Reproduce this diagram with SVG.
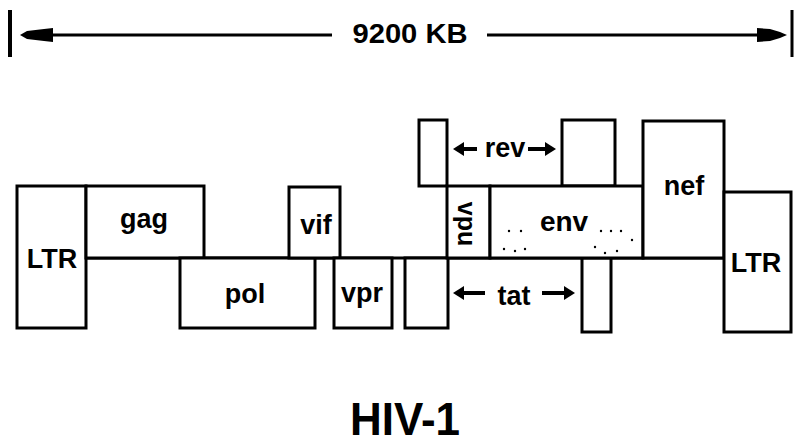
<svg xmlns="http://www.w3.org/2000/svg" width="796" height="447" viewBox="0 0 796 447">
<style>
.box{fill:#fff;stroke:#000;stroke-width:3}
.lbl{font-family:"Liberation Sans",Arial,sans-serif;font-weight:bold;font-size:27px;fill:#000;text-anchor:middle}
.ln{stroke:#000;stroke-width:3;fill:none}
.arr{stroke:#000;stroke-width:4;fill:none}
.head{fill:#000}
.dot{fill:#000}
</style>
<rect width="796" height="447" fill="#fff"/>
<g id="ruler">
<line class="ln" x1="10" y1="10" x2="10" y2="57" style="stroke-width:4"/>
<line class="ln" x1="792" y1="10" x2="792" y2="57" style="stroke-width:3"/>
<line class="ln" x1="45" y1="35" x2="332" y2="35"/>
<line class="ln" x1="487" y1="35" x2="760" y2="35"/>
<polygon class="head" points="20,35 27,31 44,29 53,28 53,42 44,41 27,39"/>
<polygon class="head" points="787,35 780,32 770,29 757,28 757,42 770,41 780,38"/>
<text class="lbl" x="410" y="43" textLength="115" lengthAdjust="spacingAndGlyphs" style="font-size:27px">9200 KB</text>
</g>
<g id="connectors">
<line class="ln" x1="86" y1="258" x2="724" y2="258"/>
</g>
<g id="LTR-left">
<rect class="box" x="17" y="186" width="69" height="142"/>
<text class="lbl" x="52" y="268">LTR</text>
</g>
<g id="gag">
<rect class="box" x="86" y="186" width="118" height="72"/>
<text class="lbl" x="144" y="228">gag</text>
</g>
<g id="pol">
<rect class="box" x="180" y="258" width="135" height="70"/>
<text class="lbl" x="245" y="303">pol</text>
</g>
<g id="vif">
<rect class="box" x="289" y="187" width="51" height="71"/>
<text class="lbl" x="316" y="234">vif</text>
</g>
<g id="vpr">
<rect class="box" x="334" y="258" width="58" height="70"/>
<text class="lbl" x="362" y="302">vpr</text>
</g>
<g id="rev">
<rect class="box" x="419" y="120" width="28" height="66"/>
<rect class="box" x="562" y="120" width="53" height="66"/>
<line class="arr" x1="461" y1="149" x2="477" y2="149"/>
<polygon class="head" points="453,149 464,142 464,156"/>
<line class="arr" x1="528" y1="149" x2="547" y2="149"/>
<polygon class="head" points="556,149 545,142 545,156"/>
<text class="lbl" x="505" y="157">rev</text>
</g>
<g id="tat">
<rect class="box" x="405" y="258" width="43" height="70"/>
<rect class="box" x="582" y="258" width="29" height="74"/>
<line class="arr" x1="462" y1="293" x2="485" y2="293"/>
<polygon class="head" points="453,293 464,286 464,300"/>
<line class="arr" x1="542" y1="293" x2="566" y2="293"/>
<polygon class="head" points="575,293 564,286 564,300"/>
<text class="lbl" x="514" y="305">tat</text>
</g>
<g id="vpu">
<rect class="box" x="447" y="186" width="43" height="72"/>
<text class="lbl" transform="translate(458,224) rotate(90)" x="0" y="0" style="font-size:25px">vpu</text>
</g>
<g id="env">
<rect class="box" x="490" y="186" width="153" height="72"/>
<text class="lbl" x="564" y="231" style="font-size:28px">env</text>
<circle class="dot" cx="509" cy="231" r="1.2"/>
<circle class="dot" cx="521" cy="231" r="1.2"/>
<circle class="dot" cx="504" cy="249" r="1.2"/>
<circle class="dot" cx="515" cy="251" r="1.2"/>
<circle class="dot" cx="525" cy="249" r="1.2"/>
<circle class="dot" cx="601" cy="231" r="1.2"/>
<circle class="dot" cx="611" cy="231" r="1.2"/>
<circle class="dot" cx="621" cy="231" r="1.2"/>
<circle class="dot" cx="632" cy="240" r="1.2"/>
<circle class="dot" cx="595" cy="247" r="1.2"/>
<circle class="dot" cx="605" cy="253" r="1.2"/>
<circle class="dot" cx="617" cy="251" r="1.2"/>
</g>
<g id="nef">
<rect class="box" x="643" y="121" width="81" height="137"/>
<text class="lbl" x="684" y="195">nef</text>
</g>
<g id="LTR-right">
<rect class="box" x="724" y="192" width="67" height="140"/>
<text class="lbl" x="756" y="272">LTR</text>
</g>
<g id="title">
<text class="lbl" x="405" y="435" textLength="110" lengthAdjust="spacingAndGlyphs" style="font-size:47px">HIV-1</text>
</g>
</svg>
